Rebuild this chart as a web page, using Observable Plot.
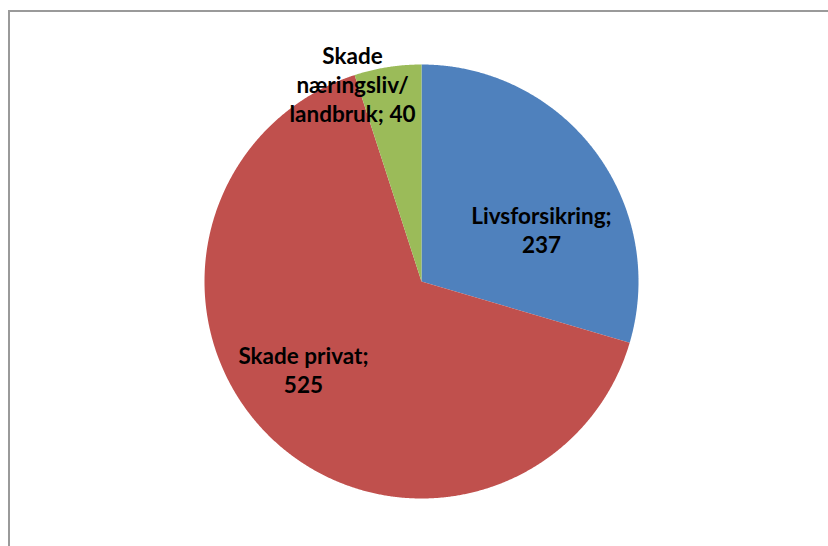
<!DOCTYPE html>
<html>
<head>
<meta charset="utf-8">
<script src="https://cdn.jsdelivr.net/npm/d3@7"></script>
<script src="https://cdn.jsdelivr.net/npm/@observablehq/plot@0.6"></script>
<style>
  html, body { margin: 0; padding: 0; background: #fff; }
  #wrap { position: relative; width: 828px; height: 546px; overflow: hidden; }
  #frame { position: absolute; left: 8px; top: 10px; width: 900px; height: 700px;
           border-left: 2px solid #9a9a9a; border-top: 2px solid #9a9a9a; box-sizing: border-box; }
  #chart { position: absolute; left: 0; top: 0; }
</style>
</head>
<body>
<div id="wrap"><div id="frame"></div><div id="chart"></div></div>
<script>
const categories = ["Livsforsikring", "Skade privat", "Skade næringsliv/ landbruk"];
const values = [237, 525, 40];
const labels = ["Livsforsikring;\n237", "Skade privat;\n525", "Skade\nnæringsliv/\nlandbruk; 40"];
const colors = ["#4F81BD", "#C0504D", "#9BBB59"];

// pie geometry (angles from 12 o'clock, clockwise)
const arcs = d3.pie().sort(null).value(d => d)(values);
const pts = [];
arcs.forEach((a, i) => {
  const cat = categories[i];
  pts.push({cat, x: 0, y: 0});
  const n = Math.max(2, Math.ceil((a.endAngle - a.startAngle) / 0.005));
  for (let k = 0; k <= n; k++) {
    const t = a.startAngle + (a.endAngle - a.startAngle) * k / n;
    pts.push({cat, x: Math.sin(t), y: Math.cos(t)});
  }
  pts.push({cat, x: 0, y: 0});
});

// label anchor positions (unit circle coordinates)
const labelPos = [[0.553, 0.24], [-0.544, -0.406], [-0.318, 0.912]];
const labelData = categories.map((c, i) => ({cat: c, label: labels[i], x: labelPos[i][0], y: labelPos[i][1]}));

const cx = 421, cy = 281, r = 217;
const chart = Plot.plot({
  width: 828,
  height: 546,
  margin: 0,
  x: {domain: [-1, 1], range: [cx - r, cx + r], axis: null},
  y: {domain: [-1, 1], range: [cy + r, cy - r], axis: null},
  color: {domain: categories, range: colors},
  style: {background: "transparent"},
  marks: [
    Plot.line(pts, {x: "x", y: "y", z: "cat", fill: "cat", stroke: "none", curve: "linear"}),
    Plot.text(labelData, {x: "x", y: "y", text: "label", fontFamily: "Lato", fontWeight: "bold",
      fontSize: 22.5, lineHeight: 1.29, fill: "#000", textAnchor: "middle", lineAnchor: "middle"})
  ]
});
document.getElementById("chart").appendChild(chart);
</script>
</body>
</html>
